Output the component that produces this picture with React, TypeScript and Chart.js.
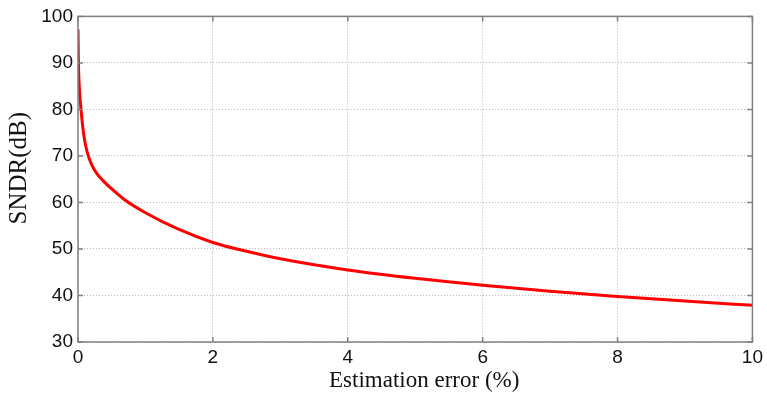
import React, { useEffect, useRef } from "react";
import { Chart, registerables } from "chart.js";

Chart.register(...registerables);

const errorPercent = [0, 0.005, 0.01, 0.02, 0.03, 0.045, 0.07, 0.1, 0.14, 0.2, 0.28, 0.37, 0.5, 0.69, 1, 1.48, 2, 2.5, 3, 4, 5, 6, 7, 8, 9, 10];
const sndrDb = [97.2, 91, 88, 84.6, 82.4, 80, 76.3, 73.2, 70.6, 68.2, 66.2, 64.7, 62.9, 60.6, 57.8, 54.3, 51.4, 49.5, 47.9, 45.5, 43.7, 42.2, 40.9, 39.8, 38.8, 37.9];
const xTicks = [0, 2, 4, 6, 8, 10];
const yTicks = [30, 40, 50, 60, 70, 80, 90, 100];

const xTitle = "Estimation error (%)";
const yTitle = "SNDR(dB)";

const frameColor = "#808080";
const serif = "'Liberation Serif', 'Times New Roman', serif";

const boxPlugin = {
  id: "boxPlugin",
  afterDatasetsDraw(chart: any) {
    const { ctx, chartArea } = chart;
    const { left, right, top, bottom } = chartArea;
    const xs = chart.scales.x;
    const ys = chart.scales.y;
    ctx.save();
    ctx.strokeStyle = frameColor;
    ctx.lineWidth = 1.5;
    ctx.setLineDash([]);
    ctx.strokeRect(left, top, right - left, bottom - top);
    const tl = 5;
    ctx.beginPath();
    for (const v of xTicks) {
      const px = xs.getPixelForValue(v);
      ctx.moveTo(px, bottom);
      ctx.lineTo(px, bottom - tl);
      ctx.moveTo(px, top);
      ctx.lineTo(px, top + tl);
    }
    for (const v of yTicks) {
      const py = ys.getPixelForValue(v);
      ctx.moveTo(left, py);
      ctx.lineTo(left + tl, py);
      ctx.moveTo(right, py);
      ctx.lineTo(right - tl, py);
    }
    ctx.stroke();

    // axis titles
    ctx.fillStyle = "#111";
    ctx.textAlign = "center";
    ctx.textBaseline = "alphabetic";
    ctx.font = `23px ${serif}`;
    ctx.fillText(xTitle, (left + right) / 2 + 9, 387);
    ctx.save();
    ctx.translate(26, (top + bottom) / 2 - 11);
    ctx.rotate(-Math.PI / 2);
    ctx.font = `25px ${serif}`;
    ctx.fillText(yTitle, 0, 0);
    ctx.restore();
    ctx.restore();
  },
};

export default function App() {
  const canvasRef = useRef<HTMLCanvasElement | null>(null);

  useEffect(() => {
    if (!canvasRef.current) return;
    const points = errorPercent.map((x, i) => ({ x, y: sndrDb[i] }));
    const chart = new Chart(canvasRef.current, {
      type: "scatter",
      data: {
        datasets: [
          {
            data: points,
            showLine: true,
            borderColor: "#ff0000",
            backgroundColor: "#ff0000",
            borderWidth: 3,
            pointRadius: 0,
            cubicInterpolationMode: "monotone",
          } as any,
        ],
      },
      options: {
        responsive: false,
        animation: false,
        events: [],
        layout: { padding: { left: 0, top: 14, right: 14, bottom: 0 } },
        plugins: { legend: { display: false }, tooltip: { enabled: false } },
        scales: {
          x: {
            type: "linear",
            min: 0,
            max: 10,
            afterBuildTicks: (scale: any) => {
              scale.ticks = xTicks.map((v) => ({ value: v }));
            },
            afterFit: (scale: any) => {
              scale.height = 52;
            },
            ticks: {
              color: "#111",
              padding: 4,
              maxRotation: 0,
              autoSkip: false,
              font: { family: "'Liberation Sans', Arial, sans-serif", size: 19 },
            },
            grid: { color: "#b8b8b8", lineWidth: 1, drawTicks: false },
            border: { display: false, dash: [1, 2] },
            title: { display: false },
          },
          y: {
            type: "linear",
            min: 30,
            max: 100,
            afterBuildTicks: (scale: any) => {
              scale.ticks = yTicks.map((v) => ({ value: v }));
            },
            afterFit: (scale: any) => {
              scale.width = 78;
            },
            ticks: {
              color: "#111",
              padding: 5,
              autoSkip: false,
              font: { family: "'Liberation Sans', Arial, sans-serif", size: 19 },
            },
            grid: { color: "#b8b8b8", lineWidth: 1, drawTicks: false },
            border: { display: false, dash: [1, 2] },
            title: { display: false },
          },
        },
      },
      plugins: [boxPlugin],
    });
    return () => chart.destroy();
  }, []);

  return (
    <div style={{ position: "fixed", left: 0, top: 0, width: 767, height: 394, background: "#fff" }}>
      <canvas ref={canvasRef} width={767} height={394} style={{ width: 767, height: 394, display: "block" }} />
    </div>
  );
}
